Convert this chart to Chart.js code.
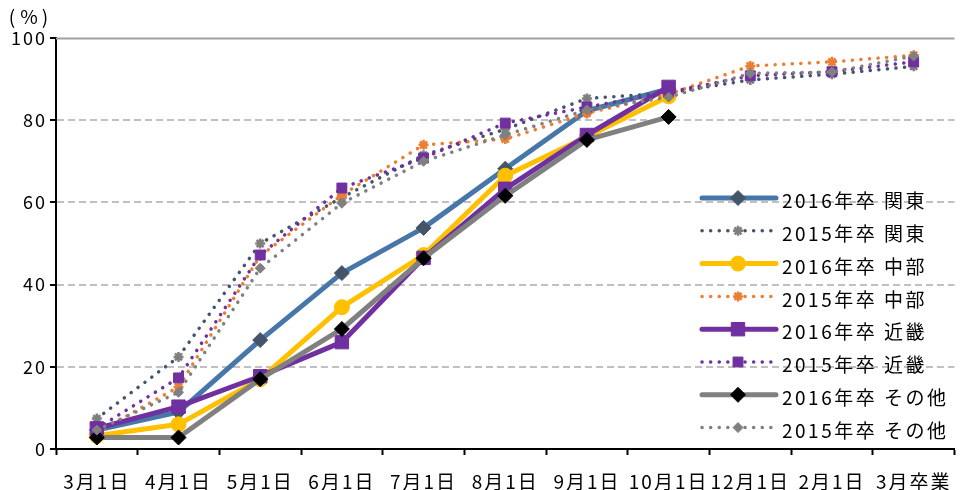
<!DOCTYPE html>
<html>
<head>
<meta charset="utf-8">
<script src="https://cdn.jsdelivr.net/npm/chart.js@4/dist/chart.umd.min.js"></script>
<style>
  html, body { margin: 0; padding: 0; background: #ffffff; }
  #wrap { width: 965px; height: 490px; position: relative; }
</style>
</head>
<body>
<div id="wrap"><canvas id="c" width="965" height="490"></canvas></div>
<script>
// Survey dates along the x axis
const categories = ['3月1日', '4月1日', '5月1日', '6月1日', '7月1日', '8月1日', '9月1日', '10月1日', '12月1日', '2月1日', '3月卒業'];

// Cumulative rate (%) by region, 2016 graduates (survey up to 10月1日)
const kanto2016 = [4.6, 9.0, 26.5, 42.8, 53.8, 68.2, 82.3, 87.6, null, null, null];
const chubu2016 = [3.2, 6.0, 17.0, 34.5, 47.2, 66.5, 76.0, 85.8, null, null, null];
const kinki2016 = [5.0, 10.3, 17.7, 26.0, 46.5, 63.3, 76.4, 88.1, null, null, null];
const other2016 = [2.8, 2.8, 17.0, 29.2, 46.4, 61.6, 75.2, 80.8, null, null, null];

// Cumulative rate (%) by region, 2015 graduates
const kanto2015 = [7.4, 22.4, 50.0, 61.2, 71.5, 77.8, 85.3, 86.6, 89.8, 91.2, 93.1];
const chubu2015 = [4.0, 15.1, 47.0, 61.8, 74.0, 75.4, 81.7, 86.3, 93.2, 94.2, 95.8];
const kinki2015 = [5.0, 17.3, 47.2, 63.5, 70.8, 79.3, 83.2, 86.8, 90.8, 91.8, 94.2];
const other2015 = [4.6, 13.8, 44.0, 59.8, 70.0, 76.4, 82.5, 85.6, 91.4, 91.7, 95.6];

// Series names
const seriesLabels = ['2016年卒 関東', '2015年卒 関東', '2016年卒 中部', '2015年卒 中部',
                      '2016年卒 近畿', '2015年卒 近畿', '2016年卒 その他', '2015年卒 その他'];

// Y axis range and step
const yMin = 0, yMax = 100, yStep = 20;

const FONT = '"Noto Sans CJK JP", "Noto Sans", sans-serif';

function solid(label, data, lineColor, markColor, style, radius) {
  return {
    label, data,
    borderColor: lineColor,
    backgroundColor: markColor,
    borderWidth: 5,
    borderCapStyle: 'round',
    borderJoinStyle: 'round',
    pointStyle: style,
    pointRadius: radius,
    pointHoverRadius: radius,
    pointBackgroundColor: markColor,
    pointBorderColor: markColor,
    pointBorderWidth: 1,
    spanGaps: false,
    tension: 0
  };
}

function dotted(label, data, lineColor, markColor, style, radius) {
  return {
    label, data,
    borderColor: lineColor,
    backgroundColor: markColor,
    borderWidth: 3.5,
    borderDash: [0.1, 8.5],
    borderCapStyle: 'round',
    pointStyle: style,
    pointRadius: radius,
    pointHoverRadius: radius,
    pointBackgroundColor: markColor,
    pointBorderColor: markColor,
    pointBorderWidth: style === 'star' ? 2.5 : 1,
    spanGaps: false,
    tension: 0
  };
}

const datasets = [
  solid(seriesLabels[0], kanto2016, '#4677A8', '#44546A', 'rectRot', 7.5),
  dotted(seriesLabels[1], kanto2015, '#44546A', '#7F7F7F', 'star', 5),
  solid(seriesLabels[2], chubu2016, '#FFC000', '#FFC000', 'circle', 7.5),
  dotted(seriesLabels[3], chubu2015, '#ED7D31', '#ED7D31', 'star', 5),
  solid(seriesLabels[4], kinki2016, '#7030A0', '#7030A0', 'rect', 9.5),
  dotted(seriesLabels[5], kinki2015, '#7030A0', '#7030A0', 'rect', 7),
  solid(seriesLabels[6], other2016, '#808080', '#000000', 'rectRot', 7.5),
  dotted(seriesLabels[7], other2015, '#808080', '#808080', 'rectRot', 5)
];
// later series sit on top
datasets.forEach((d, i) => { d.order = datasets.length - i; });

// Solid top line at 100, text spacing and the unit label
const framePlugin = {
  id: 'frame',
  beforeDraw(chart) {
    chart.ctx.letterSpacing = '2px';
  },
  beforeDatasetsDraw(chart) {
    const { ctx, chartArea } = chart;
    const y = Math.round(chart.scales.y.getPixelForValue(yMax)) + 0.5;
    ctx.save();
    ctx.strokeStyle = '#A0A0A0';
    ctx.lineWidth = 2;
    ctx.beginPath();
    ctx.moveTo(chartArea.left, y);
    ctx.lineTo(chartArea.right, y);
    ctx.stroke();
    ctx.restore();
  },
  afterDraw(chart) {
    const ctx = chart.ctx;
    ctx.save();
    ctx.letterSpacing = '0px';
    ctx.fillStyle = '#000000';
    ctx.font = '19px ' + FONT;
    ctx.textBaseline = 'middle';
    ctx.textAlign = 'center';
    ctx.fillText('(', 12, 17);
    ctx.fillText('%', 29, 17);
    ctx.fillText(')', 45, 17);
    ctx.restore();
  }
};

// Legend drawn inside the plot on the right
const sideLegend = {
  id: 'sideLegend',
  afterDraw(chart) {
    const ctx = chart.ctx;
    const x0 = 702, x1 = 776, xm = 738, xt = 782;
    const top = 198, step = 32.8;
    chart.data.datasets.forEach((ds, i) => {
      const y = top + i * step;
      ctx.save();
      ctx.strokeStyle = ds.borderColor;
      ctx.lineWidth = ds.borderWidth;
      ctx.lineCap = 'round';
      ctx.setLineDash(ds.borderDash || []);
      ctx.beginPath();
      ctx.moveTo(x0, y);
      ctx.lineTo(x1, y);
      ctx.stroke();
      ctx.restore();

      ctx.save();
      ctx.fillStyle = ds.pointBackgroundColor;
      ctx.strokeStyle = ds.pointBorderColor;
      ctx.lineWidth = ds.pointBorderWidth;
      ctx.setLineDash([]);
      Chart.helpers.drawPoint(ctx, {
        pointStyle: ds.pointStyle,
        radius: ds.pointRadius,
        borderWidth: ds.pointBorderWidth,
        rotation: 0
      }, xm, y);
      ctx.restore();

      ctx.save();
      ctx.letterSpacing = '2.5px';
      ctx.fillStyle = '#000000';
      ctx.font = '19px ' + FONT;
      ctx.textBaseline = 'middle';
      ctx.textAlign = 'left';
      ctx.fillText(ds.label, xt, y + 3);
      ctx.restore();
    });
  }
};

new Chart(document.getElementById('c'), {
  type: 'line',
  data: { labels: categories, datasets },
  plugins: [framePlugin, sideLegend],
  options: {
    responsive: false,
    animation: false,
    devicePixelRatio: 1,
    layout: { padding: { top: 38, right: 0, left: 0, bottom: 0 } },
    plugins: {
      legend: { display: false },
      tooltip: { enabled: false },
      title: { display: false }
    },
    scales: {
      x: {
        type: 'category',
        offset: true,
        grid: {
          offset: true,
          drawOnChartArea: false,
          drawTicks: true,
          tickLength: 6,
          tickColor: '#000000',
          tickWidth: 2
        },
        border: { display: true, color: '#000000', width: 2 },
        ticks: {
          color: '#000000',
          font: { family: FONT, size: 19 },
          padding: 15,
          maxRotation: 0,
          autoSkip: false
        },
        afterFit(scale) { scale.height = 41; }
      },
      y: {
        min: yMin,
        max: yMax,
        grid: {
          drawOnChartArea: true,
          drawTicks: true,
          tickLength: 6,
          tickColor: '#000000',
          tickWidth: 2,
          lineWidth: 2,
          color: (c) => (c.tick && (c.tick.value === yMin || c.tick.value === yMax)) ? 'rgba(0,0,0,0)' : '#C0C0C0'
        },
        border: { display: true, color: '#000000', width: 2, dash: [7, 4] },
        ticks: {
          stepSize: yStep,
          color: '#000000',
          font: { family: FONT, size: 18 },
          padding: 3
        },
        afterFit(scale) { scale.width = 56; }
      }
    }
  }
});
</script>
</body>
</html>
